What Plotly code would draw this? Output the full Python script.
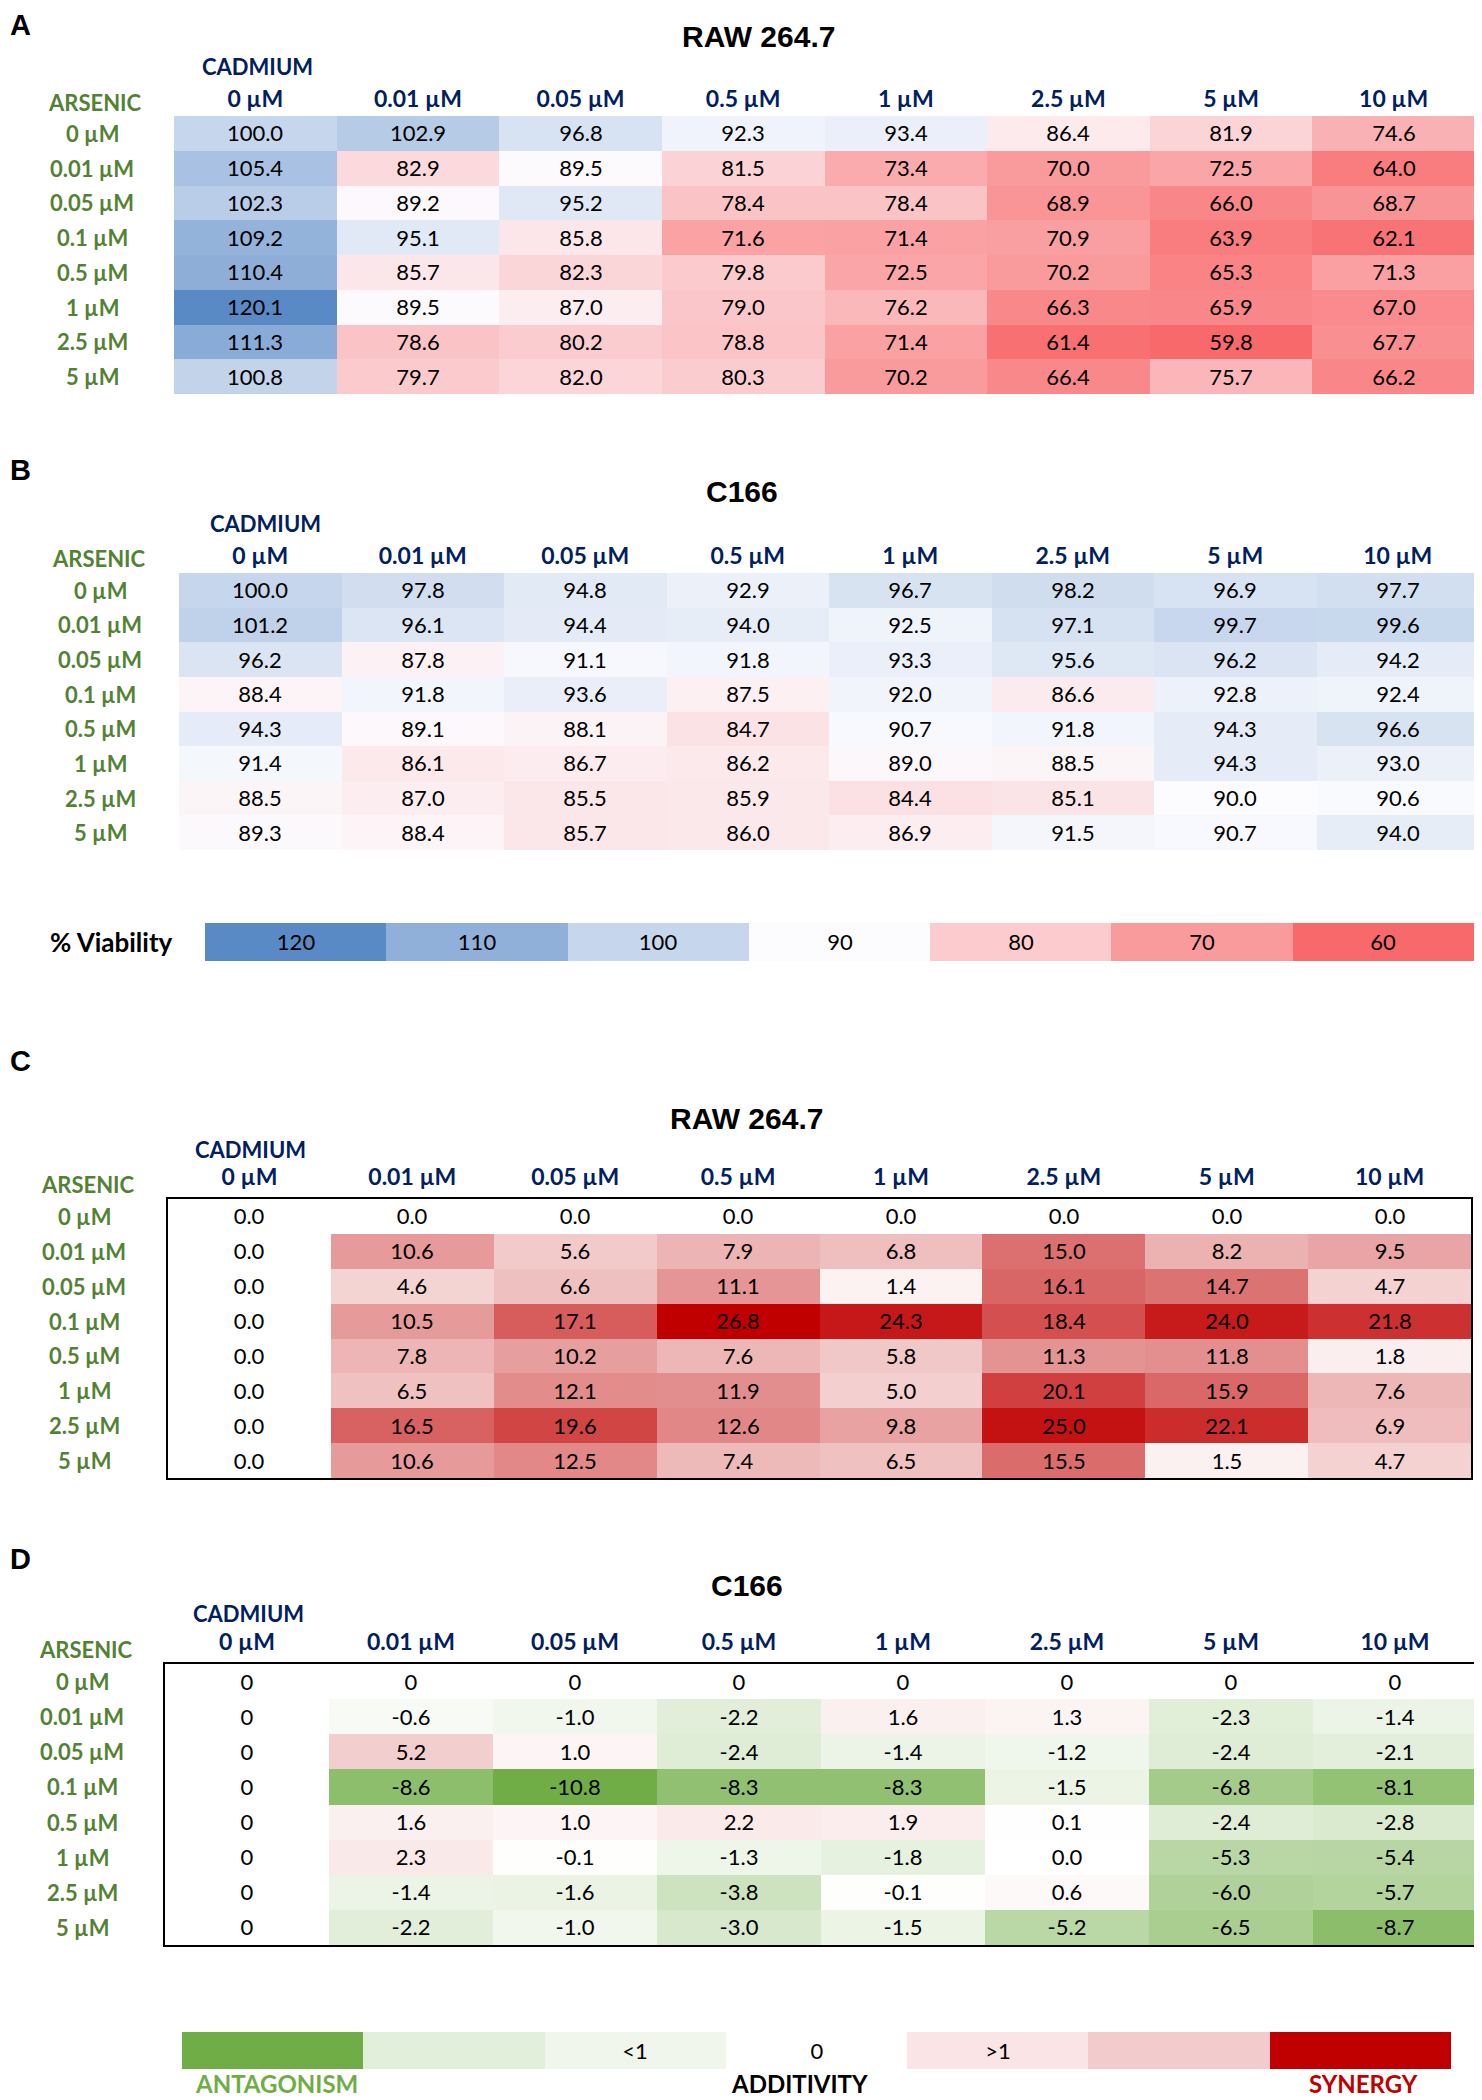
import plotly.graph_objects as go

# ---------------- data ----------------
cadmium = ["0 µM", "0.01 µM", "0.05 µM", "0.5 µM", "1 µM", "2.5 µM", "5 µM", "10 µM"]
arsenic = ["0 µM", "0.01 µM", "0.05 µM", "0.1 µM", "0.5 µM", "1 µM", "2.5 µM", "5 µM"]

raw_viability = [
    [100.0, 102.9, 96.8, 92.3, 93.4, 86.4, 81.9, 74.6],
    [105.4, 82.9, 89.5, 81.5, 73.4, 70.0, 72.5, 64.0],
    [102.3, 89.2, 95.2, 78.4, 78.4, 68.9, 66.0, 68.7],
    [109.2, 95.1, 85.8, 71.6, 71.4, 70.9, 63.9, 62.1],
    [110.4, 85.7, 82.3, 79.8, 72.5, 70.2, 65.3, 71.3],
    [120.1, 89.5, 87.0, 79.0, 76.2, 66.3, 65.9, 67.0],
    [111.3, 78.6, 80.2, 78.8, 71.4, 61.4, 59.8, 67.7],
    [100.8, 79.7, 82.0, 80.3, 70.2, 66.4, 75.7, 66.2],
]
c166_viability = [
    [100.0, 97.8, 94.8, 92.9, 96.7, 98.2, 96.9, 97.7],
    [101.2, 96.1, 94.4, 94.0, 92.5, 97.1, 99.7, 99.6],
    [96.2, 87.8, 91.1, 91.8, 93.3, 95.6, 96.2, 94.2],
    [88.4, 91.8, 93.6, 87.5, 92.0, 86.6, 92.8, 92.4],
    [94.3, 89.1, 88.1, 84.7, 90.7, 91.8, 94.3, 96.6],
    [91.4, 86.1, 86.7, 86.2, 89.0, 88.5, 94.3, 93.0],
    [88.5, 87.0, 85.5, 85.9, 84.4, 85.1, 90.0, 90.6],
    [89.3, 88.4, 85.7, 86.0, 86.9, 91.5, 90.7, 94.0],
]
raw_interaction = [
    [0.0, 0.0, 0.0, 0.0, 0.0, 0.0, 0.0, 0.0],
    [0.0, 10.6, 5.6, 7.9, 6.8, 15.0, 8.2, 9.5],
    [0.0, 4.6, 6.6, 11.1, 1.4, 16.1, 14.7, 4.7],
    [0.0, 10.5, 17.1, 26.8, 24.3, 18.4, 24.0, 21.8],
    [0.0, 7.8, 10.2, 7.6, 5.8, 11.3, 11.8, 1.8],
    [0.0, 6.5, 12.1, 11.9, 5.0, 20.1, 15.9, 7.6],
    [0.0, 16.5, 19.6, 12.6, 9.8, 25.0, 22.1, 6.9],
    [0.0, 10.6, 12.5, 7.4, 6.5, 15.5, 1.5, 4.7],
]
c166_interaction = [
    [0, 0, 0, 0, 0, 0, 0, 0],
    [0, -0.6, -1.0, -2.2, 1.6, 1.3, -2.3, -1.4],
    [0, 5.2, 1.0, -2.4, -1.4, -1.2, -2.4, -2.1],
    [0, -8.6, -10.8, -8.3, -8.3, -1.5, -6.8, -8.1],
    [0, 1.6, 1.0, 2.2, 1.9, 0.1, -2.4, -2.8],
    [0, 2.3, -0.1, -1.3, -1.8, 0.0, -5.3, -5.4],
    [0, -1.4, -1.6, -3.8, -0.1, 0.6, -6.0, -5.7],
    [0, -2.2, -1.0, -3.0, -1.5, -5.2, -6.5, -8.7],
]
viability_legend = [120, 110, 100, 90, 80, 70, 60]
interaction_legend_text = ["", "", "<1", "0", ">1", "", ""]
interaction_legend_titles = ["ANTAGONISM", "ADDITIVITY", "SYNERGY"]

# ---------------- styling ----------------
PAGE_W, PAGE_H = 1482, 2100
OFF = 8                       # default body margin of the html page
W, H = PAGE_W - OFF, PAGE_H - OFF
NAVY = "#002060"
GREEN = "#548235"
CELL_FONT = "Lato"


def fx(px):
    return (px - OFF) / W


def fy(py):
    return 1 - (py - OFF) / H


def fmt(v):
    return str(v) if isinstance(v, int) else f"{v:.1f}"


via_cs = [[0, "#F8696B"], [0.5, "#FCFCFF"], [1, "#5A8AC6"]]
syn_cs = [[0, "#FFFFFF"], [1, "#C00000"]]
d_min, d_max = -10.8, 26.8
d_mid = -d_min / (d_max - d_min)
int_cs = [[0, "#70AD47"], [d_mid, "#FFFFFF"], [1, "#C00000"]]

panels = [
    dict(letter="A", title="RAW 264.7", z=raw_viability, cs=via_cs, zmin=60, zmax=120,
         x0=174, x1=1475, y0=116, y1=394, tx=759, ty=37, ly=25, cx=257, cy=67, hy=102,
         rx=92, ax=95, border=False),
    dict(letter="B", title="C166", z=c166_viability, cs=via_cs, zmin=60, zmax=120,
         x0=179, x1=1479, y0=573, y1=850, tx=742, ty=492, ly=470, cx=265, cy=523, hy=558,
         rx=100, ax=99, border=False),
    dict(letter="C", title="RAW 264.7", z=raw_interaction, cs=syn_cs, zmin=0, zmax=26.8,
         x0=168, x1=1471, y0=1199, y1=1478, tx=746, ty=1118, ly=1061, cx=250, cy=1149, hy=1184,
         rx=84, ax=88, border=True),
    dict(letter="D", title="C166", z=c166_interaction, cs=int_cs, zmin=d_min, zmax=d_max,
         x0=165, x1=1477, y0=1664, y1=1945, tx=747, ty=1585, ly=1559, cx=248, cy=1613, hy=1649,
         rx=82, ax=86, border=True),
]

fig = go.Figure()
layout_axes = {}
annotations = []


def axname(n):
    return ("x" if n == 1 else f"x{n}"), ("y" if n == 1 else f"y{n}")


for i, p in enumerate(panels):
    n = i + 1
    xa, ya = axname(n)
    fig.add_trace(go.Heatmap(
        z=p["z"], x=cadmium, y=arsenic,
        text=[[fmt(v) for v in row] for row in p["z"]],
        texttemplate="%{text}",
        textfont=dict(family=CELL_FONT, size=22, color="black"),
        colorscale=p["cs"], zmin=p["zmin"], zmax=p["zmax"],
        showscale=False, xgap=0, ygap=0, hoverinfo="skip",
        xaxis=xa, yaxis=ya,
    ))
    line = dict(showline=True, mirror=True, linecolor="black", linewidth=2) if p["border"] else dict(showline=False)
    layout_axes["xaxis" + ("" if n == 1 else str(n))] = dict(
        domain=[fx(p["x0"]), fx(p["x1"])], anchor=ya, side="top",
        showgrid=False, zeroline=False, ticks="", fixedrange=True,
        tickfont=dict(family=CELL_FONT, size=23, color=NAVY, weight="bold"),
        ticklabelstandoff=3, **line,
    )
    layout_axes["yaxis" + ("" if n == 1 else str(n))] = dict(
        domain=[fy(p["y1"]), fy(p["y0"])], anchor=xa, autorange="reversed",
        showgrid=False, zeroline=False, ticks="", showticklabels=False, fixedrange=True,
        **line,
    )
    # row labels (arsenic), centred
    for lab in arsenic:
        annotations.append(dict(
            x=fx(p["rx"]), xref="paper", y=lab, yref=ya, text=lab, showarrow=False,
            xanchor="center", yanchor="middle",
            font=dict(family=CELL_FONT, size=22, color=GREEN, weight="bold")))
    annotations.append(dict(
        x=fx(p["ax"]), xref="paper", y=fy(p["hy"]), yref="paper", text="ARSENIC",
        showarrow=False, xanchor="center", yanchor="middle",
        font=dict(family=CELL_FONT, size=22, color=GREEN, weight="bold")))
    annotations.append(dict(
        x=fx(p["cx"]), xref="paper", y=fy(p["cy"]), yref="paper", text="CADMIUM",
        showarrow=False, xanchor="center", yanchor="middle",
        font=dict(family=CELL_FONT, size=22, color=NAVY, weight="bold")))
    annotations.append(dict(
        x=fx(p["tx"]), xref="paper", y=fy(p["ty"]), yref="paper", text=p["title"],
        showarrow=False, xanchor="center", yanchor="middle",
        font=dict(family="Liberation Sans, Arial", size=30, color="black", weight="bold")))
    annotations.append(dict(
        x=0, xref="paper", y=fy(p["ly"]), yref="paper", text=p["letter"],
        showarrow=False, xanchor="left", yanchor="middle",
        font=dict(family="Liberation Sans, Arial", size=29, color="black", weight="bold")))

# ---- viability legend ----
n = 5
xa, ya = axname(n)
fig.add_trace(go.Heatmap(
    z=[viability_legend], x=list(range(len(viability_legend))), y=[0],
    text=[[str(v) for v in viability_legend]], texttemplate="%{text}",
    textfont=dict(family=CELL_FONT, size=22, color="black"),
    colorscale=via_cs, zmin=60, zmax=120, showscale=False, hoverinfo="skip",
    xaxis=xa, yaxis=ya))
layout_axes["xaxis5"] = dict(domain=[fx(205), fx(1474)], anchor=ya, visible=False, fixedrange=True)
layout_axes["yaxis5"] = dict(domain=[fy(961), fy(923)], anchor=xa, visible=False, fixedrange=True)
annotations.append(dict(
    x=fx(111), xref="paper", y=fy(942), yref="paper", text="% Viability", showarrow=False,
    xanchor="center", yanchor="middle",
    font=dict(family=CELL_FONT, size=26, color="black", weight="bold")))

# ---- interaction legend ----
n = 6
xa, ya = axname(n)
leg_colors = ["#70AD47", "#E2EFDA", "#F0F6EB", "#FFFFFF", "#FBE4E5", "#F2CCCD", "#C00000"]
leg_cs = [[k / (len(leg_colors) - 1), c] for k, c in enumerate(leg_colors)]
fig.add_trace(go.Heatmap(
    z=[list(range(len(leg_colors)))], x=list(range(len(leg_colors))), y=[0],
    text=[interaction_legend_text], texttemplate="%{text}",
    textfont=dict(family=CELL_FONT, size=22, color="black"),
    colorscale=leg_cs, zmin=0, zmax=len(leg_colors) - 1, showscale=False, hoverinfo="skip",
    xaxis=xa, yaxis=ya))
layout_axes["xaxis6"] = dict(domain=[fx(182), fx(1451)], anchor=ya, visible=False, fixedrange=True)
layout_axes["yaxis6"] = dict(domain=[fy(2069), fy(2032)], anchor=xa, visible=False, fixedrange=True)
title_colors = ["#70AD47", "black", "#C00000"]
title_pos = [0, 3, 6]
title_shift = [4, -17, 3]
for t, c, xp, sh in zip(interaction_legend_titles, title_colors, title_pos, title_shift):
    annotations.append(dict(
        x=xp, xref=xa, y=fy(2083), yref="paper", text=t, showarrow=False, xshift=sh,
        xanchor="center", yanchor="middle",
        font=dict(family=CELL_FONT, size=24, color=c, weight="bold")))

fig.update_layout(
    width=W, height=H, margin=dict(l=0, r=0, t=0, b=0),
    paper_bgcolor="white", plot_bgcolor="white", showlegend=False,
    annotations=annotations, **layout_axes,
)

fig.write_html("out.html")
